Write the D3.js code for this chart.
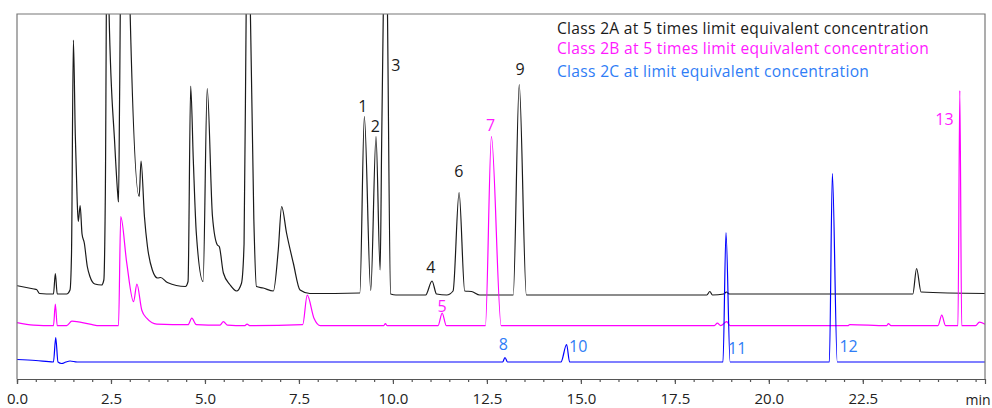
<!DOCTYPE html>
<html>
<head>
<meta charset="utf-8">
<script src="https://cdn.jsdelivr.net/npm/d3@7"></script>
<style>
    body { margin: 0; background: #fff; }
    svg { display: block; font-family: "Open Sans", sans-serif; }
</style>
</head>
<body>
<svg id="svg" width="992" height="408"></svg>
<script>
// retention time (min), signal above the trace's own baseline
var traceA = [[0, 1.66], [0.45, 1.0], [0.52, 0.9], [0.6, 0.1], [0.97, 0], [1.02, 4.1], [1.07, 0], [1.32, 0], [1.41, 0.8],
    [1.45, 8], [1.50, 50.8], [1.55, 32], [1.60, 18.8], [1.63, 14.5], [1.68, 17.7], [1.73, 12], [1.79, 10.2], [1.87, 5.5],
    [1.94, 3.5], [2.07, 2], [2.25, 1.8], [2.31, 2.8], [2.35, 20], [2.40, 80], [2.45, 56], [2.6, 30], [2.68, 20], [2.70, 18.4],
    [2.73, 40], [2.78, 80], [2.95, 80], [3.01, 56], [3.25, 19.5], [3.30, 26.6], [3.39, 15.5], [3.47, 9.5], [3.6, 4.8],
    [3.74, 3.2], [3.82, 3.3], [4.0, 2.3], [4.48, 1.5], [4.55, 2.5], [4.62, 41.6], [4.69, 26.8], [4.77, 12.2], [4.95, 2.5],
    [5.06, 41.1], [5.2, 15.5], [5.33, 9.8], [5.38, 9.5], [5.49, 4.2], [5.67, 1.8], [5.84, 0.6], [5.97, 2.1], [6.04, 10],
    [6.10, 60], [6.15, 90], [6.2, 60], [6.3, 15], [6.37, 1.5], [6.55, 1.2], [6.82, 0.6], [6.95, 8.8], [7.04, 17.5],
    [7.17, 12.2], [7.35, 6.2], [7.53, 0.8], [7.79, 0.1], [9.12, 0.2], [9.24, 35.5], [9.41, 0.7], [9.55, 31.5], [9.66, 4.8],
    [9.70, 30], [9.75, 60], [9.8, 90], [9.85, 60], [9.94, 0], [10.08, -0.2], [10.87, -0.2], [11.04, 2.6], [11.16, 0],
    [11.43, -0.2], [11.6, 0.6], [11.76, 20.3], [11.91, 0.6], [12.09, 0.5], [12.31, -0.2], [13.2, -0.2], [13.36, 41.9],
    [13.55, -0.2], [18.35, -0.2], [18.43, 0.5], [18.5, -0.2], [18.8, 0], [18.87, 0.4], [18.95, 0], [23.83, 0], [23.93, 5.1],
    [24.05, 0.4], [25.75, 0.1]];

var traceB = [[0, 0.6], [0.44, 0.1], [0.97, 0], [1.02, 4.3], [1.07, 0], [1.32, 0], [1.46, 0.9], [1.94, 0.3], [2.2, 0],
    [2.70, 0], [2.76, 21.8], [2.92, 12.5], [3.1, 4.8], [3.19, 8.3], [3.32, 3.1], [3.45, 1.5], [3.72, 0.3], [4.55, 0.2],
    [4.65, 1.5], [4.77, 0.2], [5.4, 0.1], [5.49, 0.8], [5.6, 0.1], [6.05, 0], [6.12, 0.3], [6.2, 0], [7.6, 0.2], [7.72, 6.1],
    [7.9, 1.5], [8.07, 0], [9.75, 0], [9.8, 0.4], [9.85, 0], [11.2, 0], [11.31, 2.5], [11.42, 0], [12.46, 0], [12.62, 37.8],
    [12.88, 0], [18.55, 0], [18.63, 0.5], [18.72, 0], [18.88, 0.8], [18.97, 0], [22.1, 0], [22.15, 0.2], [23.13, 0],
    [23.18, 0.4], [23.25, 0], [24.5, 0], [24.6, 2.1], [24.7, 0], [25.03, 0], [25.08, 47], [25.13, 0], [25.5, 0],
    [25.6, 0.7], [25.75, 0.3]];

var traceC = [[0, 0.5], [0.5, 0.3], [0.97, 0], [1.03, 4.9], [1.09, 0], [1.19, -0.3], [1.3, 0], [1.41, 0.2], [1.6, 0],
    [12.92, 0], [12.98, 0.9], [13.05, 0], [14.47, 0], [14.62, 3.5], [14.7, 0], [18.78, 0], [18.86, 25.9], [18.97, 0],
    [21.61, 0], [21.69, 37.7], [21.82, 0], [25.75, 0]];

// vertical offset of each trace
var offsets = [17, 10.66, 3.4];

var legendNames = ["Class 2A at 5 times limit equivalent concentration",
    "Class 2B at 5 times limit equivalent concentration",
    "Class 2C at limit equivalent concentration"];

// peak labels: text, time, height on the plot, series
var peakLabels = [["1", 9.20, 54.6, 0], ["2", 9.53, 50.6, 0], ["3", 10.08, 62.8, 0], ["4", 11.01, 22.5, 0],
    ["5", 11.31, 14.6, 1], ["6", 11.75, 41.6, 0], ["7", 12.60, 50.8, 1], ["8", 12.94, 7.0, 2], ["9", 13.38, 62.0, 0],
    ["10", 14.93, 6.66, 2], ["11", 19.16, 6.14, 2], ["12", 22.12, 6.66, 2], ["13", 24.67, 52.0, 1]];

var majorTicks = [0, 2.5, 5, 7.5, 10, 12.5, 15, 17.5, 20, 22.5];
var minorTicks = d3.range(0, 25.6, 0.5);

var lineColors = ["#1a1a1a", "#ff00ff", "#0000ff"];
var textColors = ["#1a1a1a", "#ff1aff", "#2f7df6"];

var svg = d3.select("svg"),
    plotLeft = 17, plotRight = 985, plotTop = 14, plotBottom = 379;

var x = d3.scaleLinear().domain([0, 25.75]).range([plotLeft, plotRight]);
var y = d3.scaleLinear().domain([0, 73]).range([plotBottom, plotTop]);

svg.append("clipPath").attr("id", "plotclip")
    .append("rect")
    .attr("x", plotLeft).attr("y", plotTop)
    .attr("width", plotRight - plotLeft).attr("height", plotBottom - plotTop);

// traces
var traces = [traceA, traceB, traceC];
traces.forEach(function (tr, i) {
    var line = d3.line()
        .x(function (d) { return x(d[0]); })
        .y(function (d) { return y(d[1] + offsets[i]); })
        .curve(d3.curveMonotoneX);
    svg.append("path")
        .datum(tr)
        .attr("clip-path", "url(#plotclip)")
        .attr("fill", "none")
        .attr("stroke", lineColors[i])
        .attr("stroke-width", 1.2)
        .attr("stroke-linejoin", "round")
        .attr("d", line);
});

// frame
svg.append("path")
    .attr("d", "M" + plotLeft + "," + plotBottom + "V" + plotTop + "H" + plotRight + "V" + plotBottom)
    .attr("fill", "none")
    .attr("stroke", "#777")
    .attr("stroke-width", 1.2);

// x axis, minor then major ticks
var minorAxis = svg.append("g")
    .attr("transform", "translate(0," + plotBottom + ")")
    .call(d3.axisBottom(x).tickValues(minorTicks).tickSize(3).tickFormat(""));
minorAxis.select(".domain").remove();
minorAxis.selectAll("line").attr("stroke", "#555").attr("stroke-width", 1.2);

var majorAxis = svg.append("g")
    .attr("transform", "translate(0," + plotBottom + ")")
    .call(d3.axisBottom(x).tickValues(majorTicks).tickSize(5).tickPadding(9).tickFormat(d3.format(".1f")));
majorAxis.select(".domain").attr("stroke", "#555").attr("stroke-width", 1.2);
majorAxis.selectAll("line").attr("stroke", "#555").attr("stroke-width", 1.2);
majorAxis.selectAll("text")
    .style("font-family", "Open Sans")
    .style("font-size", "15px")
    .attr("fill", "#222");

svg.append("text")
    .attr("x", 978)
    .attr("y", 399)
    .attr("text-anchor", "middle")
    .attr("dominant-baseline", "central")
    .style("font-size", "14px")
    .attr("fill", "#222")
    .text("min");

// peak numbers
svg.selectAll(".peaklabel")
    .data(peakLabels)
    .enter()
    .append("text")
    .attr("class", "peaklabel")
    .attr("x", function (d) { return x(d[1]); })
    .attr("y", function (d) { return y(d[2]); })
    .attr("text-anchor", "middle")
    .attr("dominant-baseline", "central")
    .style("font-size", "16px")
    .attr("fill", function (d) { return textColors[d[3]]; })
    .text(function (d) { return d[0]; });

// legend
var legendY = [27.5, 48, 71];
legendNames.forEach(function (name, i) {
    svg.append("text")
        .attr("x", 557)
        .attr("y", legendY[i])
        .attr("dominant-baseline", "central")
        .style("font-size", "15.6px")
        .style("letter-spacing", "0.3px")
        .attr("fill", textColors[i])
        .text(name);
});
</script>
</body>
</html>
